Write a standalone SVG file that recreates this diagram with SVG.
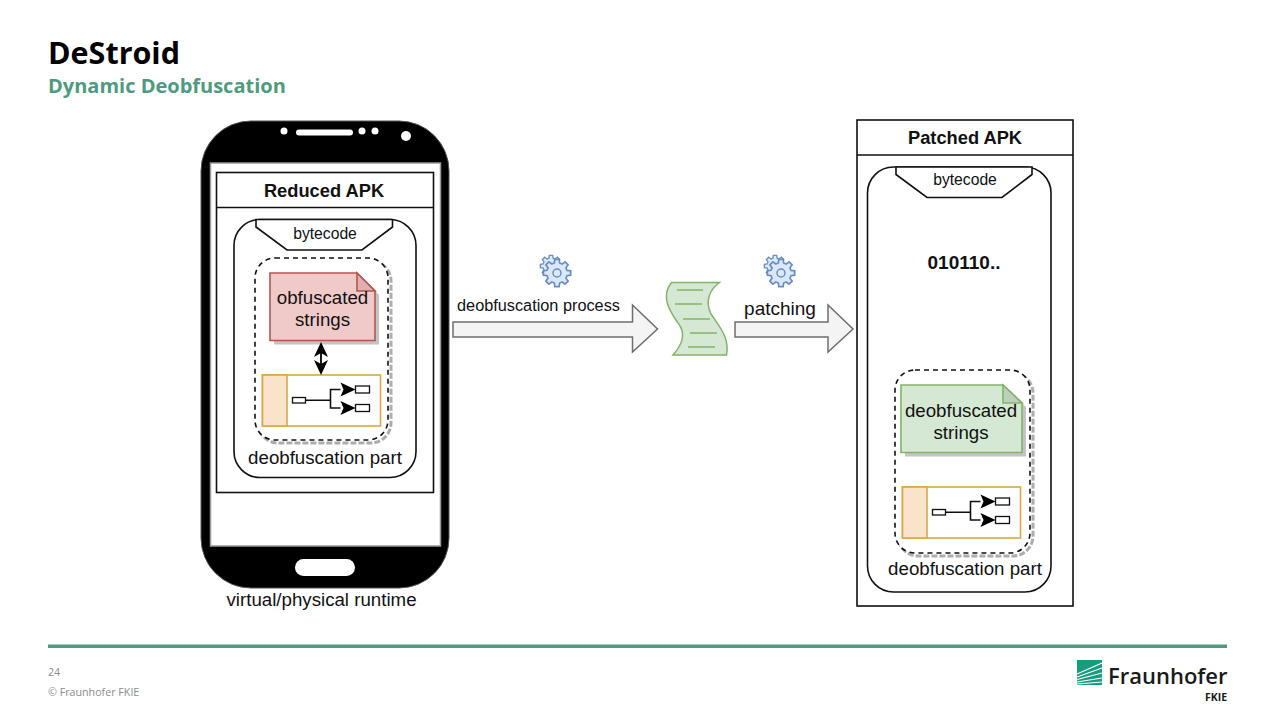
<svg xmlns="http://www.w3.org/2000/svg" xmlns:xlink="http://www.w3.org/1999/xlink" width="1275" height="717" viewBox="0 0 1275 717">
<style>
text{font-family:"Liberation Sans",Arial,sans-serif;fill:#111;text-anchor:middle}
.t18{font-size:18.700px}.t14{font-size:15.700px}.t16{font-size:16.300px}
.b{font-weight:bold}
.ln{fill:none;stroke:#111;stroke-width:1.600}
.box{fill:#fff;stroke:#111;stroke-width:1.600}
.dash{fill:none;stroke:#111;stroke-width:1.600;stroke-dasharray:5 4}
.shadow{fill:none;stroke:#adadad;stroke-width:3;stroke-dasharray:6 2}
.org{fill:#fff;stroke:#d9a93f;stroke-width:1.600}
.orgf{fill:#f9e3cb;stroke:#d9a93f;stroke-width:1.600}
.mini{fill:#fff;stroke:#111;stroke-width:1.300}
.blk{fill:#f4f4f4;stroke:#6e6e6e;stroke-width:1.500}
.gear{fill:#dae8fc;stroke:#6c8ebf;stroke-width:1.500}
.glin{stroke:#82b366;stroke-width:1.500;fill:none}
.brand{font-family:"Open Sans","Noto Sans",sans-serif;text-anchor:start}
</style>
<defs>
<g id="gearShape"><polygon class="gear" points="8.69,-2.33 11.85,-1.88 11.85,1.88 8.69,2.33 7.79,4.5 9.71,7.05 7.05,9.71 4.5,7.79 2.33,8.69 1.88,11.85 -1.88,11.85 -2.33,8.69 -4.5,7.79 -7.05,9.71 -9.71,7.05 -7.79,4.5 -8.69,2.33 -11.85,1.88 -11.85,-1.88 -8.69,-2.33 -7.79,-4.5 -9.71,-7.05 -7.05,-9.71 -4.5,-7.79 -2.33,-8.69 -1.88,-11.85 1.88,-11.85 2.33,-8.69 4.5,-7.79 7.05,-9.71 9.71,-7.05 7.79,-4.5"/></g>
<g id="gears">
<use xlink:href="#gearShape" href="#gearShape" transform="translate(-4,-5) scale(.9)"/>
<use xlink:href="#gearShape" href="#gearShape" transform="translate(2,2) scale(1.15)"/>
<circle cx="2" cy="2" r="4" fill="#dae8fc" stroke="#6c8ebf" stroke-width="1.500"/>
</g>
<g id="flow">
<rect class="org" x="0" y="0" width="118" height="51"/>
<rect class="orgf" x="0" y="0" width="24.500" height="51"/>
<rect class="mini" x="30" y="22.500" width="13" height="5.500"/>
<path class="ln" d="M43 25.300H68M78 14.500H68V33H78"/>
<polygon points="93,14.500 78,7.500 81,14.500 78,21.500" fill="#000"/>
<polygon points="93,33 78,26 81,33 78,40" fill="#000"/>
<rect class="mini" x="93" y="11" width="14" height="7"/>
<rect class="mini" x="93" y="29.500" width="14" height="7"/>
</g>
</defs>
<rect width="1275" height="717" fill="#fff"/>

<g id="header">
<text class="brand" x="48" y="64" font-size="30.500" font-weight="700" style="fill:#000">DeStroid</text>
<text class="brand" x="48" y="93" font-size="20" font-weight="700" style="fill:#4f9a80">Dynamic Deobfuscation</text>
</g>

<g id="phone">
<rect x="201" y="121" width="248" height="467" rx="50" fill="#000" stroke="#555" stroke-width="1"/>
<rect x="210.500" y="163" width="230" height="383" fill="#fff" stroke="#999" stroke-width="1.500"/>
<circle cx="284" cy="131" r="3.500" fill="#fff"/>
<rect x="296" y="129.500" width="57" height="6" rx="3" fill="#fff"/>
<circle cx="362" cy="131" r="3.500" fill="#fff"/>
<circle cx="375" cy="131" r="3.500" fill="#fff"/>
<circle cx="406" cy="136" r="5" fill="#fff"/>
<rect x="295" y="559" width="60" height="17" rx="8.500" fill="#fff"/>
<text class="t18" x="321.500" y="606">virtual/physical runtime</text>
</g>

<g id="reduced-apk">
<rect class="box" x="216.500" y="172.500" width="217" height="320"/>
<path class="ln" d="M216.500 207.500H433.500"/>
<text class="b" font-size="18.300" x="324" y="197">Reduced APK</text>
</g>

<g id="bytecode-left">
<rect class="box" x="234" y="219.500" width="182" height="258" rx="26"/>
<path class="box" d="M256 219.500V227L287 250H362L392.500 227V219.500Z"/>
<text class="t14" x="325" y="238.500">bytecode</text>
</g>

<g id="deobf-left">
<rect class="shadow" x="258" y="261" width="133" height="182" rx="20"/>
<rect x="255" y="258" width="133" height="182" rx="20" fill="#fff"/>
<rect class="dash" x="255" y="258" width="133" height="182" rx="20"/>
<text class="t18" x="325" y="464">deobfuscation part</text>
</g>

<g id="obfuscated-strings">
<path d="M274 277H361L379 295V344.500H274Z" fill="#c4c4c4"/>
<path d="M270 273H357L375 291V340.500H270Z" fill="#f0c9c9" stroke="#b85450" stroke-width="1.600"/>
<path d="M357 273L375 291H357Z" fill="#dcb1b0" stroke="#b85450" stroke-width="1.600"/>
<text class="t18" x="322.500" y="304">obfuscated</text>
<text class="t18" x="322.500" y="326">strings</text>
</g>

<g id="flow-left"><use xlink:href="#flow" href="#flow" x="262.500" y="375"/></g>

<g id="document">
<path d="M671.500 282.500H719.500C709 290 705 302 711 314C719 326 730 338 726.500 355H673C681 346 686 336 680 326C672 314 659 298 671.500 282.500Z" fill="#d5e8d4" stroke="#82b366" stroke-width="1.500"/>
<path class="glin" d="M677 290H703M675 304H702M683 319H710M690 333H717M688 347H715"/>
</g>

<g id="gear-1"><use xlink:href="#gears" href="#gears" x="555" y="271"/></g>
<g id="gear-2"><use xlink:href="#gears" href="#gears" x="779" y="271"/></g>
<g id="label-process"><text class="t16" x="538.500" y="311">deobfuscation process</text></g>
<g id="label-patching"><text font-size="19" x="780" y="315">patching</text></g>

<g id="patched-apk">
<rect class="box" x="857" y="120" width="216" height="486"/>
<path class="ln" d="M857 155H1073"/>
<text class="b" font-size="18.300" x="965" y="144">Patched APK</text>
</g>

<g id="bytecode-right">
<rect class="box" x="867.500" y="167" width="183.500" height="425" rx="26"/>
<path class="box" d="M896 167V174.500L927 197.500H1002L1032 174.500V167Z"/>
<text class="t14" x="965" y="185">bytecode</text>
<text class="b" font-size="19" x="964" y="269">010110..</text>
</g>

<g id="deobf-right">
<rect class="shadow" x="898" y="373" width="135" height="183" rx="20"/>
<rect x="895" y="370" width="135" height="183" rx="20" fill="#fff"/>
<rect class="dash" x="895" y="370" width="135" height="183" rx="20"/>
<text class="t18" x="965" y="575">deobfuscation part</text>
</g>

<g id="deobfuscated-strings">
<path d="M905 389H1007L1026 407V456.500H905Z" fill="#c4c4c4"/>
<path d="M901 385H1003L1022 403V452.500H901Z" fill="#d5e8d4" stroke="#82b366" stroke-width="1.600"/>
<path d="M1003 385L1022 403H1003Z" fill="#bdd0bc" stroke="#82b366" stroke-width="1.600"/>
<text class="t18" x="961" y="417">deobfuscated</text>
<text class="t18" x="961" y="439">strings</text>
</g>

<g id="flow-right"><use xlink:href="#flow" href="#flow" x="902.500" y="487"/></g>

<g id="connectors">
<path class="blk" d="M453 322H632.500V305L657.500 329L632.500 352V337H453Z"/>
<path class="blk" d="M735 322H828V305L853 329L828 352V337H735Z"/>
<path d="M321 345V372" stroke="#000" stroke-width="1.800" fill="none"/>
<polygon points="321,342 328,357 321,353 314,357" fill="#000"/>
<polygon points="321,375 328,360 321,364 314,360" fill="#000"/>
</g>

<g id="footer">
<rect x="48" y="644.500" width="1179" height="3.500" fill="#4f9a80"/>
<text class="brand" x="48" y="676" font-size="10.700" style="fill:#8c8c8c">24</text>
<text class="brand" x="48" y="696" font-size="10.700" style="fill:#8c8c8c">© Fraunhofer FKIE</text>
</g>

<g id="logo">
<rect x="1077" y="660" width="25" height="25" fill="#179c7d"/>
<path d="M1077 674L1102 663M1077 677L1102 668M1077 679.500L1102 673M1077 682L1102 678M1077 684L1102 682" stroke="#fff" stroke-width="1.100" fill="none"/>
<text class="brand" x="1108" y="684" font-size="22" font-weight="600" style="fill:#1a1a1a">Fraunhofer</text>
<text class="brand" x="1205" y="701" font-size="10.500" font-weight="700" style="fill:#1a1a1a">FKIE</text>
</g>
</svg>
